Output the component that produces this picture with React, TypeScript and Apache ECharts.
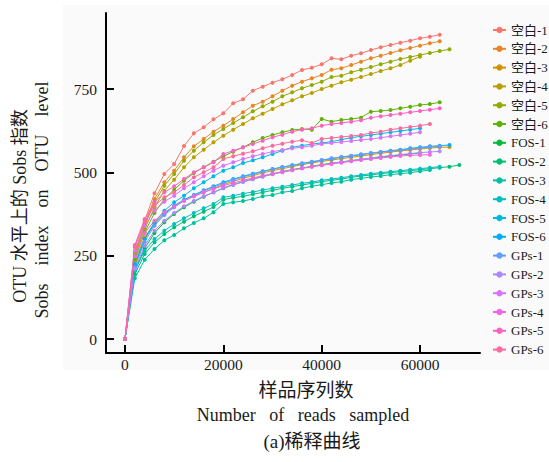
import React, { useEffect, useRef } from "react";
import * as echarts from "echarts";

const reads = [0, 2000, 4000, 6000, 8000, 10000, 12000, 14000, 16000, 18000, 20000, 22000, 24000, 26000, 28000, 30000, 32000, 34000, 36000, 38000, 40000, 42000, 44000, 46000, 48000, 50000, 52000, 54000, 56000, 58000, 60000, 62000, 64000, 66000, 68000];

const sampleNames = ["空白-1", "空白-2", "空白-3", "空白-4", "空白-5", "空白-6", "FOS-1", "FOS-2", "FOS-3", "FOS-4", "FOS-5", "FOS-6", "GPs-1", "GPs-2", "GPs-3", "GPs-4", "GPs-5", "GPs-6"];

const colors = ["#F8766D", "#E88526", "#D39200", "#B79F00", "#93AA00", "#5EB300", "#00BA38", "#00BF74", "#00C19F", "#00BFC4", "#00B9E3", "#00ADFA", "#619CFF", "#AE87FF", "#DB72FB", "#F564E3", "#FF61C3", "#FF699C"];

const blank1 = [0, 275, 355, 437, 495, 525, 579, 617, 635, 659, 677, 707, 719, 745, 757, 769, 779, 792, 807, 814, 824, 842, 839, 850, 857, 867, 875, 882, 889, 895, 902, 907, 913];
const blank2 = [0, 262, 345, 420, 470, 505, 545, 578, 600, 622, 640, 660, 680, 700, 712, 728, 745, 760, 772, 782, 792, 808, 812, 822, 832, 842, 850, 858, 866, 873, 880, 887, 893];
const blank3 = [0, 235, 305, 348, 378, 398, 415, 428, 440, 452, 463, 473, 482, 490, 498, 505, 511, 517, 523, 528, 533, 537, 541, 545, 549, 553, 557, 561, 564, 567, 570, 573, 575, 576];
const blank4 = [0, 250, 330, 395, 445, 478, 515, 545, 568, 590, 610, 628, 645, 662, 676, 690, 704, 716, 728, 738, 750, 760, 770, 778, 786, 795, 804, 812, 822, 835, 847];
const blank5 = [0, 255, 340, 410, 460, 495, 535, 565, 590, 612, 630, 648, 665, 683, 698, 712, 728, 740, 752, 762, 772, 786, 790, 800, 808, 816, 824, 832, 840, 846, 852, 858, 864, 869];
const blank6 = [0, 240, 320, 378, 420, 448, 475, 498, 515, 532, 548, 562, 575, 590, 603, 612, 620, 627, 630, 628, 660, 652, 657, 660, 664, 682, 684, 687, 692, 697, 702, 705, 710];
const fos1 = [0, 205, 272, 318, 350, 375, 395, 412, 427, 440, 453, 463, 472, 480, 488, 495, 502, 508, 513, 518, 523, 527, 531, 535, 539, 542, 546, 549, 552, 555, 558];
const fos2 = [0, 195, 255, 290, 315, 335, 352, 368, 382, 396, 418, 424, 428, 434, 440, 446, 452, 457, 462, 467, 472, 476, 480, 485, 489, 492, 496, 499, 502, 505, 508, 511, 514, 517, 522];
const fos3 = [0, 182, 238, 270, 296, 312, 332, 348, 362, 380, 405, 410, 414, 420, 428, 432, 440, 444, 452, 458, 463, 468, 472, 478, 482, 486, 489, 493, 496, 499, 503, 507];
const fos4 = [0, 205, 265, 300, 325, 345, 362, 378, 392, 405, 425, 430, 436, 441, 447, 452, 457, 462, 467, 471, 476, 480, 484, 488, 492, 496, 499, 502, 505, 508, 511, 514, 517];
const fos5 = [0, 222, 300, 350, 385, 410, 430, 452, 470, 488, 505, 515, 528, 536, 545, 555, 565, 575, 580, 585, 588, 592, 598, 604, 608, 612, 616, 620, 624, 628, 632];
const fos6 = [0, 225, 300, 345, 375, 400, 418, 432, 446, 458, 470, 480, 488, 496, 503, 510, 516, 521, 526, 531, 536, 541, 545, 549, 553, 557, 561, 565, 568, 572, 575, 578, 580, 582];
const gps1 = [0, 215, 292, 340, 372, 395, 415, 430, 444, 456, 467, 477, 486, 494, 502, 509, 515, 521, 527, 532, 537, 542, 546, 550, 554, 558, 561, 564, 567, 570, 573, 576, 578];
const gps2 = [0, 210, 280, 325, 355, 378, 398, 414, 428, 440, 452, 462, 471, 479, 487, 494, 500, 506, 512, 517, 522, 527, 531, 535, 539, 543, 547, 550, 553, 556, 559, 561, 563];
const gps3 = [0, 265, 340, 385, 412, 430, 452, 470, 488, 505, 520, 530, 540, 548, 555, 562, 567, 572, 575, 580, 585, 588, 591, 594, 597, 600, 604, 608, 612, 616, 620];
const gps4 = [0, 248, 318, 355, 380, 398, 415, 428, 440, 450, 460, 468, 476, 483, 490, 496, 502, 507, 512, 517, 521, 525, 529, 533, 537, 540, 543, 546, 549, 551, 552, 553];
const gps5 = [0, 282, 360, 410, 440, 458, 480, 500, 515, 530, 555, 565, 575, 585, 595, 605, 613, 622, 628, 632, 640, 645, 648, 652, 656, 664, 668, 672, 676, 680, 684, 688, 692];
const gps6 = [0, 278, 350, 400, 425, 440, 462, 485, 500, 515, 540, 548, 556, 563, 572, 580, 586, 592, 596, 588, 600, 603, 606, 609, 612, 618, 622, 628, 632, 636, 640, 645];

const seriesValues = [blank1, blank2, blank3, blank4, blank5, blank6, fos1, fos2, fos3, fos4, fos5, fos6, gps1, gps2, gps3, gps4, gps5, gps6];

const xTicks = [0, 20000, 40000, 60000];
const yTicks = [0, 250, 500, 750];

const FONT = "'Liberation Serif', 'Noto Sans CJK SC', serif";

export default function App() {
  const ref = useRef<HTMLDivElement>(null);
  useEffect(() => {
    if (!ref.current) return;
    const chart = echarts.init(ref.current, undefined, { renderer: "svg" });
    const series = sampleNames.map((name, si) => ({
      name,
      type: "line",
      data: seriesValues[si].map((v, i) => [reads[i], v]),
      symbol: "circle",
      symbolSize: 4,
      lineStyle: { width: 1, color: colors[si] },
      itemStyle: { color: colors[si] },
      emphasis: { disabled: true },
      z: 3,
    }));
    chart.setOption({
      animation: false,
      backgroundColor: "#ffffff",
      textStyle: { fontFamily: FONT },
      grid: { left: 106, right: 69, top: 13, bottom: 109, containLabel: false },
      xAxis: {
        type: "value",
        min: -3864,
        max: 72200,
        splitLine: { show: false },
        axisLine: { show: true, onZero: false, lineStyle: { color: "#000", width: 2 } },
        axisTick: { show: true, inside: true, length: 8, customValues: xTicks, lineStyle: { color: "#000", width: 2 } },
        axisLabel: { customValues: xTicks, formatter: (v: number) => String(v), fontSize: 15.5, color: "#1a1a1a", margin: 4, fontFamily: FONT },
      },
      yAxis: {
        type: "value",
        min: -42,
        max: 978,
        splitLine: { show: false },
        axisLine: { show: true, onZero: false, lineStyle: { color: "#000", width: 2 } },
        axisTick: { show: true, inside: true, length: 8, customValues: yTicks, lineStyle: { color: "#000", width: 2 } },
        axisLabel: { customValues: yTicks, formatter: (v: number) => String(v), fontSize: 15.5, color: "#1a1a1a", margin: 9, fontFamily: FONT },
      },
      legend: {
        orient: "vertical",
        left: 492,
        top: 23,
        padding: 0,
        itemWidth: 13,
        itemHeight: 8,
        itemGap: 4.8,
        textStyle: { fontSize: 13, lineHeight: 14, color: "#1a1a1a", fontFamily: FONT },
        data: sampleNames,
      },
      graphic: [
        { type: "rect", z: -10, shape: { x: 63, y: 5, width: 486, height: 365 }, style: { fill: "#fafafa" }, silent: true },
        { type: "text", x: 20, y: 206, rotation: Math.PI / 2, style: { text: "OTU 水平上的 Sobs 指数", fontSize: 18, fontFamily: FONT, fill: "#1a1a1a", align: "center", verticalAlign: "middle" } },
        { type: "text", x: 42, y: 200, rotation: Math.PI / 2, style: { text: "Sobs    index    on    OTU    level", fontSize: 18, fontFamily: FONT, fill: "#1a1a1a", align: "center", verticalAlign: "middle" } },
        { type: "text", x: 306, y: 390, style: { text: "样品序列数", fontSize: 19, fontFamily: FONT, fill: "#1a1a1a", align: "center", verticalAlign: "middle" } },
        { type: "text", x: 303, y: 415, style: { text: "Number   of   reads   sampled", fontSize: 18, fontFamily: FONT, fill: "#1a1a1a", align: "center", verticalAlign: "middle" } },
        { type: "text", x: 312, y: 441, style: { text: "(a)稀释曲线", fontSize: 19, fontFamily: FONT, fill: "#1a1a1a", align: "center", verticalAlign: "middle" } },
      ],
      series,
    });
    return () => chart.dispose();
  }, []);
  return <div ref={ref} style={{ width: 549, height: 462, position: "absolute", left: 0, top: 0 }} />;
}
